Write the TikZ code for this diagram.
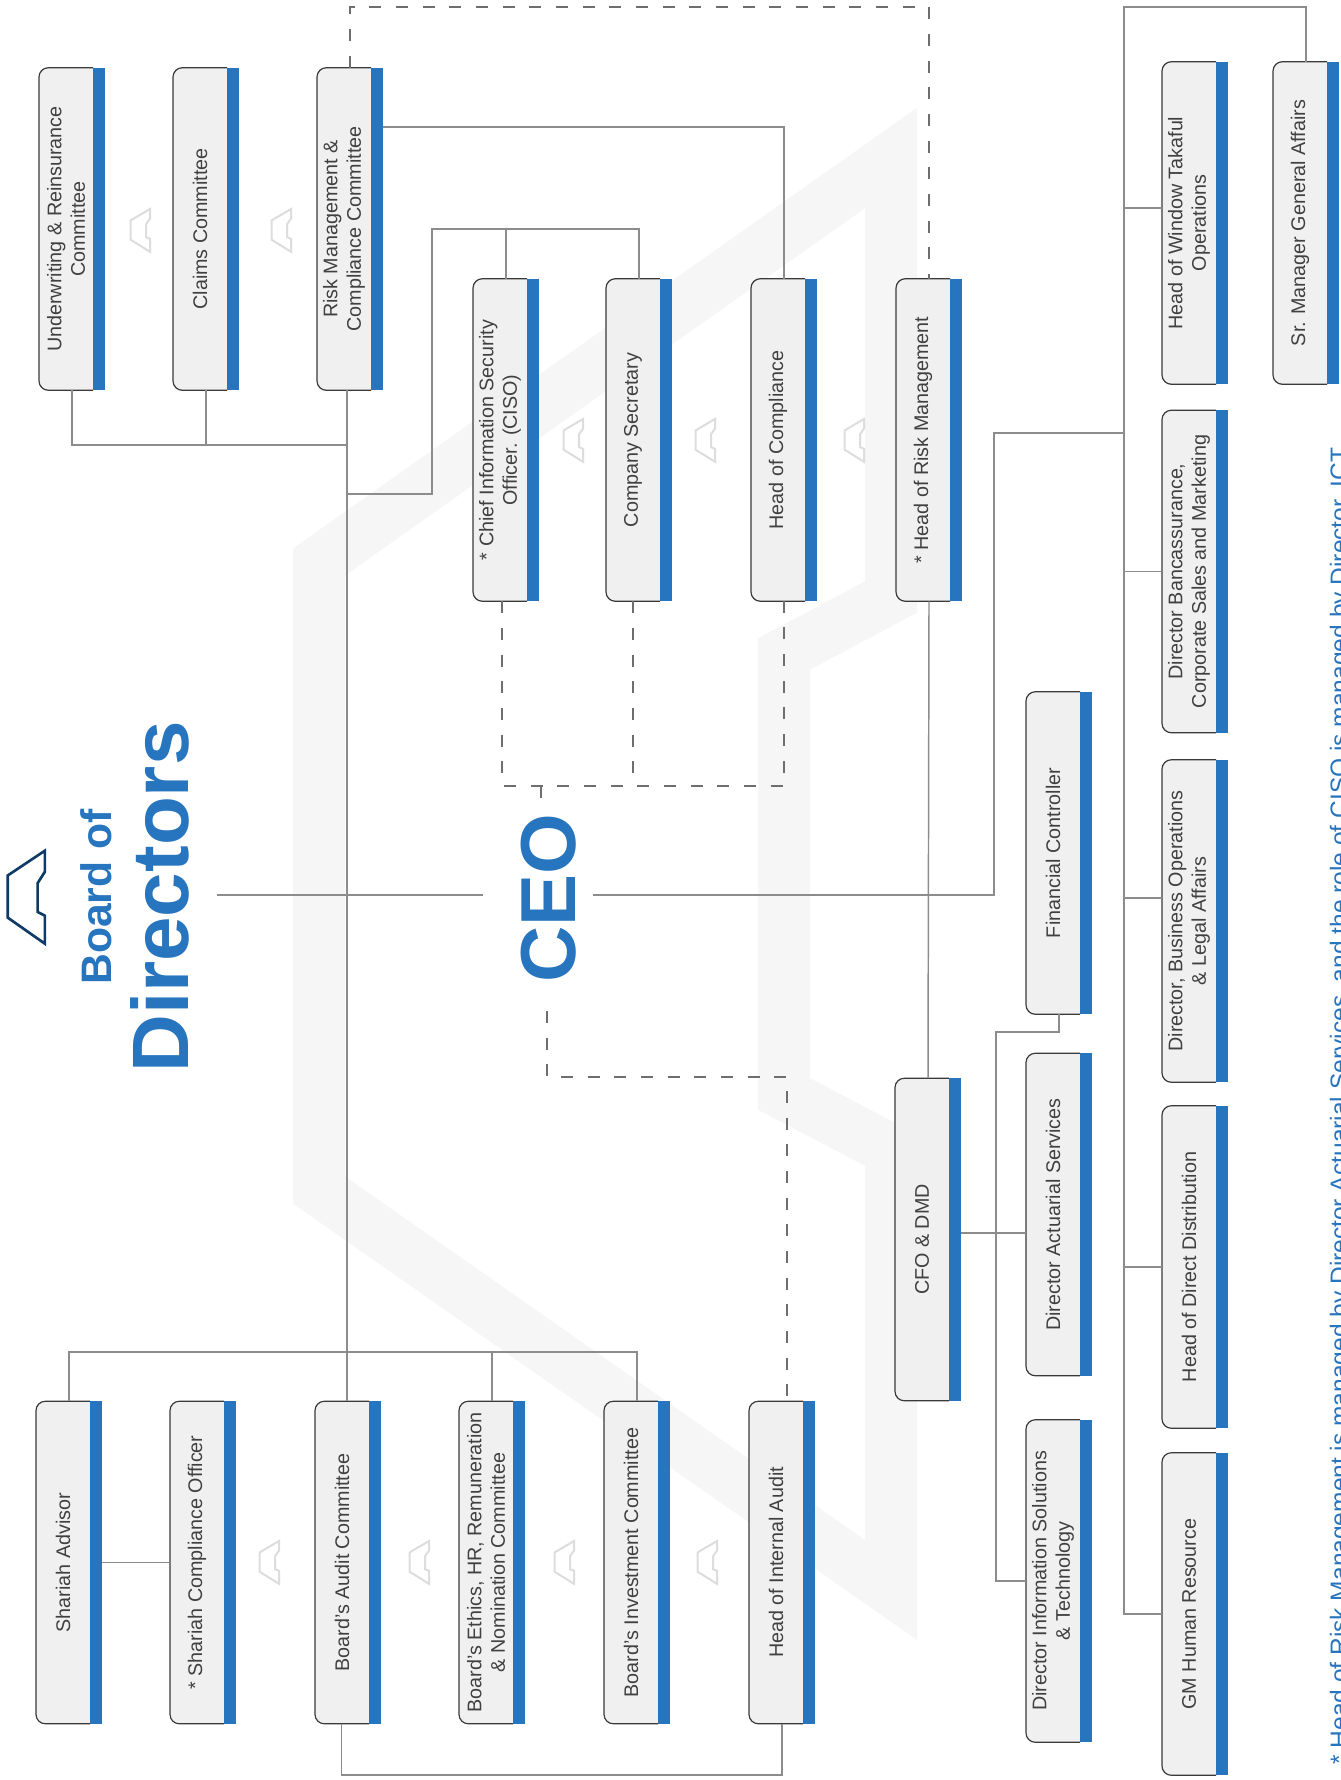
\documentclass[tikz,border=0pt]{standalone}
\usepackage{fontspec}
\setmainfont{Liberation Sans}
\definecolor{brandblue}{HTML}{2675BE}
\definecolor{navy}{HTML}{0E3A66}
\definecolor{boxgray}{HTML}{F0F0F0}
\definecolor{boxedge}{HTML}{3A3A3A}
\definecolor{txtgray}{HTML}{404040}
\definecolor{conngray}{HTML}{8C8C8C}
\definecolor{dashgray}{HTML}{6E6E6E}
\definecolor{wmgray}{HTML}{F6F6F6}
\definecolor{icongray}{HTML}{DDDDDD}
\tikzset{
  boxframe/.style={shape=rectangle, inner sep=0pt, outer sep=0pt, minimum width=49.5pt, minimum height=241.9pt},
  boxtext/.style={rotate=90, align=center, text=txtgray, inner sep=0pt, font=\fontsize{14.8pt}{17.6pt}\selectfont},
  conn/.style={draw=conngray, line width=1.1pt},
  dashline/.style={draw=dashgray, line width=2pt, dash pattern=on 9pt off 11pt},
  logo/.pic={\draw[line join=miter] (-37.2,24.8) -- (0,0) -- (0,21) -- (-7.3,32.5) -- (-7.3,61.2) -- (0,65) -- (0,93) -- (-37.2,66.9) -- cycle;},
  smalllogo/.style={color=icongray, line width=1.5pt, xscale=0.52, yscale=0.46},
  bigtitle/.style={rotate=90, anchor=base, text=brandblue, inner sep=0pt},
}
\newcommand\orgbox[4]{%
  \node[boxframe] (#1) at (#2,#3) {};
  \draw[draw=boxedge, line width=0.9pt, fill=boxgray, rounded corners=7pt]
    ([xshift=-9pt]#1.north east) -- (#1.north west) -- (#1.south west) -- ([xshift=-9pt]#1.south east);
  \fill[brandblue] ([xshift=-9pt]#1.north east) rectangle (#1.south east);
  \node[boxtext] (#1-t) at ([xshift=-4.5pt]#1.center) {#4};
}
\begin{document}
\begin{tikzpicture}[x=0.75pt, y=-0.75pt]
\useasboundingbox (0,0) rectangle (1340,1780);
\clip (0,0) rectangle (1340,1780);
\fill[white] (0,0) rectangle (1340,1780);

% watermark
\draw[wmgray, line width=39pt, line join=miter] (319,562) -- (891,158) -- (891,597) -- (784,654) -- (784,1094) -- (891,1150) -- (891,1590) -- (319,1190) -- cycle;

% small logos
\pic[smalllogo] at (150,209) {logo};
\pic[smalllogo] at (291,209) {logo};
\pic[smalllogo] at (583,419) {logo};
\pic[smalllogo] at (715,419) {logo};
\pic[smalllogo] at (864,419) {logo};
\pic[smalllogo] at (279,1541) {logo};
\pic[smalllogo] at (429,1541) {logo};
\pic[smalllogo] at (574,1541) {logo};
\pic[smalllogo] at (717,1541) {logo};

% board icon and titles
\pic[color=navy, line width=2pt] at (44.9,850.7) {logo};
\node[bigtitle, font=\fontsize{32pt}{34pt}\selectfont\bfseries] (bod1) at (111,897) {Board of};
\node[bigtitle, font=\fontsize{60pt}{62pt}\selectfont\bfseries] (bod2) at (188,897) {Directors};
\node[bigtitle, font=\fontsize{58.5pt}{60pt}\selectfont\bfseries] (ceo) at (575,898) {CEO};

% boxes
\orgbox{uw}{72}{229}{Underwriting \& Reinsurance\\Committee}
\orgbox{claims}{206}{229}{Claims Committee}
\orgbox{rmc}{350}{229}{Risk Management \&\\Compliance Committee}
\orgbox{ciso}{506}{440}{* Chief Information Security\\Officer. (CISO)}
\orgbox{cs}{639}{440}{Company Secretary}
\orgbox{hoc}{784}{440}{Head of Compliance}
\orgbox{hrm}{929}{440}{* Head of Risk Management}
\orgbox{takaful}{1195}{223}{Head of Window Takaful\\Operations}
\orgbox{srm}{1306}{223}{Sr. Manager General Affairs}
\orgbox{banc}{1195}{571.5}{Director Bancassurance,\\Corporate Sales and Marketing}
\orgbox{busops}{1195}{921}{Director, Business Operations\\\& Legal Affairs}
\orgbox{direct}{1195}{1267}{Head of Direct Distribution}
\orgbox{gmhr}{1195}{1614}{GM Human Resource}
\orgbox{fc}{1059}{853}{Financial Controller}
\orgbox{das}{1059}{1214.5}{Director Actuarial Services}
\orgbox{dist}{1059}{1581}{Director Information Solutions\\\& Technology}
\orgbox{cfo}{928}{1239.5}{CFO \& DMD}
\orgbox{sa}{69}{1562.5}{Shariah Advisor}
\orgbox{sco}{203}{1562.5}{* Shariah Compliance Officer}
\orgbox{bac}{348}{1562.5}{Board's Audit Committee}
\orgbox{beth}{492}{1562.5}{Board's Ethics, HR, Remuneration\\\& Nomination Committee}
\orgbox{binv}{637}{1562.5}{Board's Investment Committee}
\orgbox{hia}{782}{1562.5}{Head of Internal Audit}

% coordinates
\coordinate (busTL) at (347,445);
\coordinate (cisoJ) at (347,494);
\coordinate (cisoTop) at (432,229);
\coordinate (rmcR) at (0,127);
\coordinate (bodR) at (217,895);
\coordinate (ceoL) at (483,895);
\coordinate (ceoR) at (593,895);
\coordinate (ceoT) at (541,804);
\coordinate (ceoB) at (547,1011);
\coordinate (mgmtBus) at (1124,7);
\coordinate (ceoTurn) at (994,433);
\coordinate (takJ) at (1124,208);
\coordinate (busopsJ) at (1124,898);
\coordinate (cfoJ) at (0,1233);
\coordinate (fcJ) at (996,1032);
\coordinate (bbus) at (0,1352);
\coordinate (auditBot) at (0,1775);
\coordinate (dashTop) at (0,7);
\coordinate (dashMid) at (0,786);
\coordinate (dashLow) at (0,1077);

% solid connectors
\draw[conn] (uw.south) |- (busTL);
\draw[conn] (claims.south) -- (claims.south |- busTL);
\draw[conn] (rmc.south -| busTL) -- (bac.north -| busTL);
\draw[conn] (cisoJ) -| (cisoTop) -| (cs.north);
\draw[conn] (ciso.north) -- (ciso.north |- cisoTop);
\draw[conn] (rmc.east |- rmcR) -| (hoc.north);
\draw[conn] (bodR) -- (ceoL);
\draw[conn] (ceoR) -| (ceoTurn) -- (ceoTurn -| mgmtBus);
\draw[conn] (srm.north) |- (mgmtBus) -- (mgmtBus |- gmhr.west) -- (gmhr.west);
\draw[conn] (takJ) -- (takJ -| takaful.west);
\draw[conn] (mgmtBus |- banc.west) -- (banc.west);
\draw[conn] (busopsJ) -- (busopsJ -| busops.west);
\draw[conn] (mgmtBus |- direct.west) -- (direct.west);
\draw[conn] (hrm.south) -- (cfo.north);
\draw[conn] (cfo.east |- cfoJ) -- (das.west |- cfoJ);
\draw[conn] (fc.south) |- (fcJ) |- (dist.west);
\draw[conn] (sa.north) |- (binv.north |- bbus) -- (binv.north);
\draw[conn] (beth.north |- bbus) -- (beth.north);
\draw[conn] (sa.east) -- (sco.west);
\draw[conn] ([xshift=-5pt]bac.south) |- (hia.south |- auditBot) -- (hia.south);

% dashed connectors
\draw[dashline] (rmc.north) |- (hrm.north |- dashTop) -- (hrm.north);
\draw[dashline] ([xshift=-3pt]ciso.south) |- (hoc.south |- dashMid) -- (hoc.south);
\draw[dashline] ([xshift=-4.5pt]cs.south) -- ([xshift=-4.5pt]cs.south |- dashMid);
\draw[dashline] (ceoT |- dashMid) -- (ceoT);
\draw[dashline] (ceoB) |- ([xshift=3.75pt]hia.north |- dashLow) -- ([xshift=3.75pt]hia.north);

% footnote
\node[bigtitle, font=\fontsize{18.4pt}{22pt}\selectfont] (note) at (1347.5,1106) {* Head of Risk Management is managed by Director Actuarial Services, and the role of CISO is managed by Director, ICT};
\end{tikzpicture}
\end{document}
